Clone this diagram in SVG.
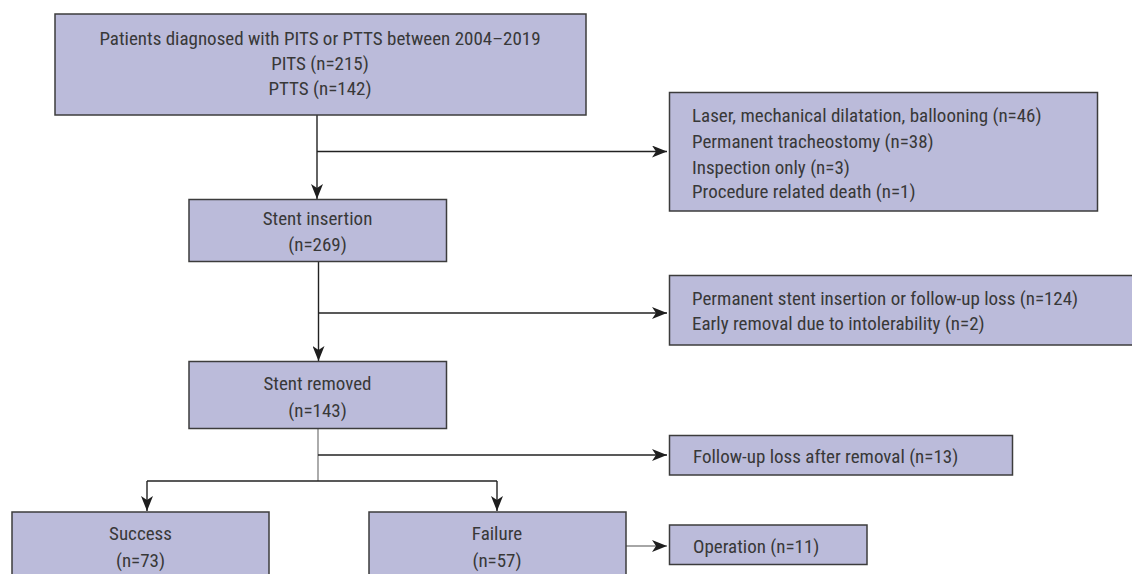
<svg xmlns="http://www.w3.org/2000/svg" width="1132" height="574" viewBox="0 0 1132 574">
<defs>
<style>
.box{fill:#bbbbda;stroke:#3c3c3c;stroke-width:1.5}
.t{font-family:"Liberation Sans Narrow","Roboto Condensed","DejaVu Sans Condensed","Liberation Sans",sans-serif;font-size:19px;fill:#383838}
.c{text-anchor:middle}
.ln{fill:none;stroke:#222222;stroke-width:1.4}
.g{stroke:#888888}
</style>
<marker id="ah" markerUnits="userSpaceOnUse" markerWidth="16" markerHeight="12" refX="15" refY="6" orient="auto">
<path d="M0,0 L15,6 L0,12 L4,6 Z" fill="#1e1e1e"/>
</marker>
</defs>
<rect width="1132" height="574" fill="#ffffff"/>
<g id="connectors">
<line class="ln" x1="317" y1="115" x2="317" y2="199" marker-end="url(#ah)"/>
<line class="ln" x1="317" y1="151.5" x2="667" y2="151.5" marker-end="url(#ah)"/>
<line class="ln" x1="318.5" y1="262" x2="318.5" y2="361" marker-end="url(#ah)"/>
<line class="ln" x1="318.5" y1="313" x2="667" y2="313" marker-end="url(#ah)"/>
<line class="ln g" x1="318" y1="429" x2="318" y2="481"/>
<line class="ln" x1="318" y1="455" x2="667" y2="455" marker-end="url(#ah)"/>
<line class="ln" x1="147" y1="481" x2="497" y2="481"/>
<line class="ln" x1="147" y1="481" x2="147" y2="511" marker-end="url(#ah)"/>
<line class="ln" x1="497" y1="481" x2="497" y2="511" marker-end="url(#ah)"/>
<line class="ln g" x1="626" y1="546" x2="667" y2="546" marker-end="url(#ah)"/>
</g>
<g id="n-patients">
<rect class="box" x="55" y="14" width="531" height="101"/>
<text class="t c" x="320" y="45">Patients diagnosed with PITS or PTTS between 2004–2019</text>
<text class="t c" x="320" y="70">PITS (n=215)</text>
<text class="t c" x="320" y="95">PTTS (n=142)</text>
</g>
<g id="n-excluded1">
<rect class="box" x="669.5" y="92.5" width="428" height="118.5"/>
<text class="t" x="692" y="121.5">Laser, mechanical dilatation, ballooning (n=46)</text>
<text class="t" x="692" y="147.5">Permanent tracheostomy (n=38)</text>
<text class="t" x="692" y="173.5">Inspection only (n=3)</text>
<text class="t" x="692" y="197.5">Procedure related death (n=1)</text>
</g>
<g id="n-insertion">
<rect class="box" x="189" y="199.5" width="257.5" height="62"/>
<text class="t c" x="317.5" y="225">Stent insertion</text>
<text class="t c" x="317.5" y="251">(n=269)</text>
</g>
<g id="n-excluded2">
<rect class="box" x="669.5" y="275.5" width="470" height="69.5"/>
<text class="t" x="692" y="304.5">Permanent stent insertion or follow-up loss (n=124)</text>
<text class="t" x="692" y="329.5">Early removal due to intolerability (n=2)</text>
</g>
<g id="n-removed">
<rect class="box" x="189" y="361.5" width="257.5" height="67"/>
<text class="t c" x="317.5" y="390">Stent removed</text>
<text class="t c" x="317.5" y="417">(n=143)</text>
</g>
<g id="n-lost">
<rect class="box" x="669.5" y="435.5" width="343" height="39.5"/>
<text class="t" x="693" y="462.5">Follow-up loss after removal (n=13)</text>
</g>
<g id="n-success">
<rect class="box" x="12" y="512" width="257" height="70"/>
<text class="t c" x="140.5" y="540">Success</text>
<text class="t c" x="140.5" y="567">(n=73)</text>
</g>
<g id="n-failure">
<rect class="box" x="369" y="512" width="257" height="70"/>
<text class="t c" x="497" y="540">Failure</text>
<text class="t c" x="497" y="567">(n=57)</text>
</g>
<g id="n-operation">
<rect class="box" x="669.5" y="525" width="197.5" height="39.5"/>
<text class="t" x="693" y="552.5">Operation (n=11)</text>
</g>
</svg>
